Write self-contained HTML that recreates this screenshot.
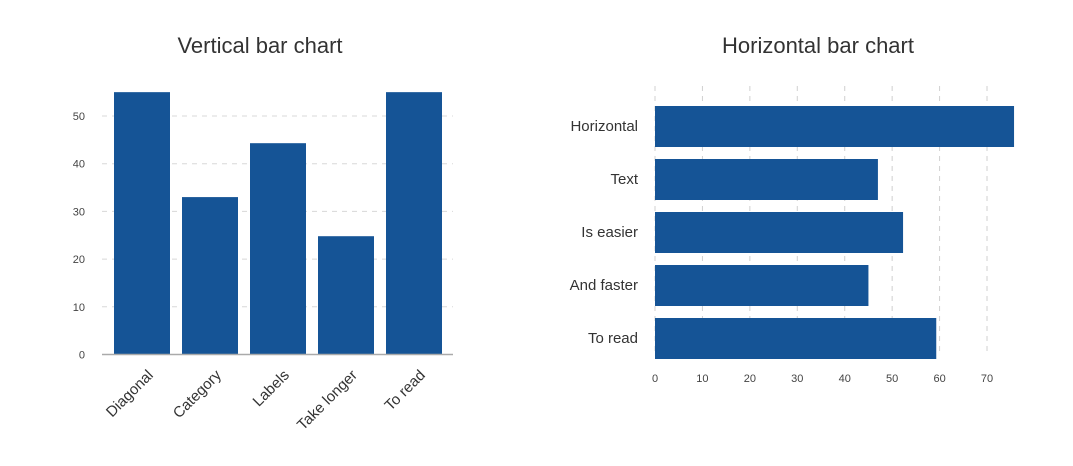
<!DOCTYPE html>
<html><head><meta charset="utf-8"><style>
body{margin:0;background:#fff;font-family:"Liberation Sans",sans-serif}
svg text{font-family:"Liberation Sans",sans-serif}
</style></head><body>
<svg id="c" width="1073" height="461">
<text x="260" y="53" text-anchor="middle" font-size="22" fill="#333">Vertical bar chart</text>
<text x="818" y="53" text-anchor="middle" font-size="22" fill="#333">Horizontal bar chart</text>
<g id="v"></g>
<g id="h"></g>
</svg>
<script>
const vCategories=["Diagonal","Category","Labels","Take longer","To read"];
const vValues=[55,33,44.3,24.8,55];
const vTicks=[0,10,20,30,40,50];
const hCategories=["Horizontal","Text","Is easier","And faster","To read"];
const hValues=[75.7,47,52.3,45,59.3];
const hTicks=[0,10,20,30,40,50,60,70];

const NS="http://www.w3.org/2000/svg";
function mk(p,t,a){const e=document.createElementNS(NS,t);for(const k in a)e.setAttribute(k,a[k]);p.appendChild(e);return e;}
const C="#155496";
// vertical
const v=document.getElementById('v');
const vy=d=>354.5-d*4.77;
const vx=i=>102+12+i*68;
vTicks.forEach(t=>{
  if(t>0){const l=mk(v,'line',{x1:102,x2:453,y1:vy(t),y2:vy(t),stroke:'#d8d8d8','stroke-dasharray':'5,5'});
  
  }
  const tx=mk(v,'text',{x:85,y:vy(t)+4,'text-anchor':'end','font-size':11,fill:'#444'});tx.textContent=t;
  
  
});
vValues.forEach((d,i)=>{
  const val=Math.min(d,55);
  const r=mk(v,'rect',{x:vx(i),y:vy(val),width:56,height:vy(0)-vy(val),fill:C});
  
  
  const cx=vx(i)+28+12,cy=376;
  const tx=mk(v,'text',{x:cx,y:cy,'text-anchor':'end','font-size':15,fill:'#333',transform:`rotate(-45 ${cx} ${cy})`});tx.textContent=vCategories[i];
  
  
});
const ax=mk(v,'line',{x1:102,x2:453,y1:354.5,y2:354.5,stroke:'#aaa','stroke-width':1.5});


// horizontal
const h=document.getElementById('h');
const hx=d=>655+d*4.743;
const hy=i=>106+i*53;
hTicks.forEach(t=>{
  const l=mk(h,'line',{x1:hx(t),x2:hx(t),y1:86,y2:356,stroke:'#d0d0d0','stroke-dasharray':'5,5'});
  
  
  const tx=mk(h,'text',{x:hx(t),y:382,'text-anchor':'middle','font-size':11,fill:'#444'});tx.textContent=t;
  
  
});
hValues.forEach((d,i)=>{
  const r=mk(h,'rect',{x:655,y:hy(i),width:hx(d)-655,height:41,fill:C});
  
  
  const tx=mk(h,'text',{x:638,y:hy(i)+25,'text-anchor':'end','font-size':15,fill:'#333'});tx.textContent=hCategories[i];
  
  
});
</script>
</body></html>
